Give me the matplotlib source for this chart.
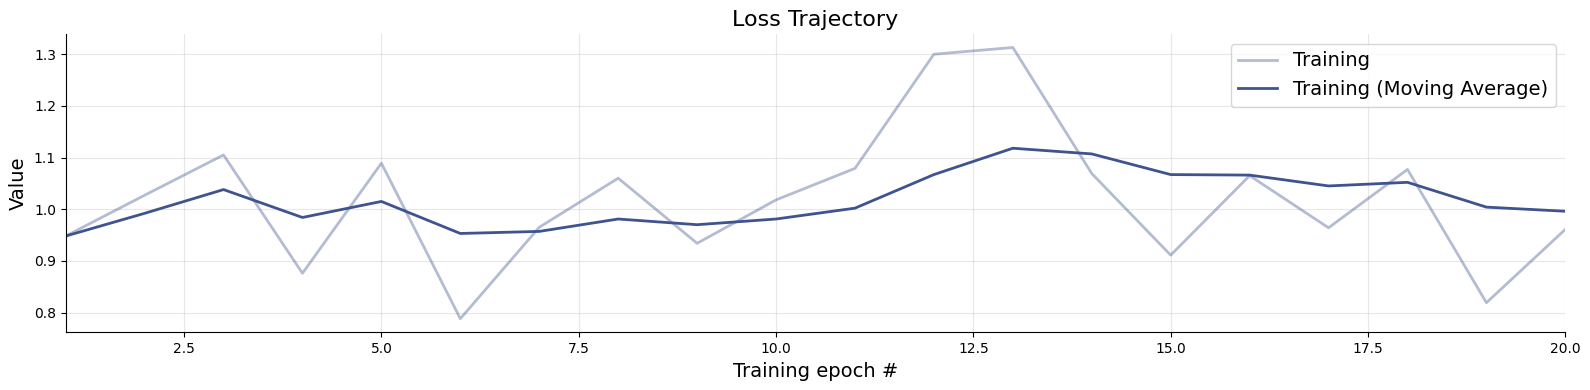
import numpy as np
import matplotlib
matplotlib.use("Agg")
import matplotlib.pyplot as plt

epochs = np.arange(1, 21)
train_loss = [0.948, 1.027, 1.105, 0.876, 1.089, 0.788, 0.965, 1.060, 0.934, 1.018,
              1.079, 1.300, 1.313, 1.069, 0.911, 1.065, 0.964, 1.077, 0.819, 0.961]
train_ma = [0.948, 0.992, 1.038, 0.984, 1.015, 0.953, 0.957, 0.981, 0.970, 0.981,
            1.002, 1.067, 1.118, 1.107, 1.067, 1.066, 1.045, 1.052, 1.004, 0.996]

color = '#3f538e'

fig, ax = plt.subplots(1, 1, figsize=(15.9, 3.9), dpi=100)
ax.plot(epochs, train_loss, color=color, alpha=0.39, lw=2, label='Training')
ax.plot(epochs, train_ma, color=color, lw=2, label='Training (Moving Average)')
ax.set_xlim(1, 20)
ax.grid(alpha=0.3)
ax.spines['top'].set_visible(False)
ax.spines['right'].set_visible(False)
ax.set_title('Loss Trajectory', fontsize=16)
ax.set_xlabel('Training epoch #', fontsize=14)
ax.set_ylabel('Value', fontsize=14)
ax.legend(fontsize=14)
fig.subplots_adjust(left=0.0413, right=0.9845, bottom=0.148, top=0.913)
fig.savefig('out.png')
plt.close()
